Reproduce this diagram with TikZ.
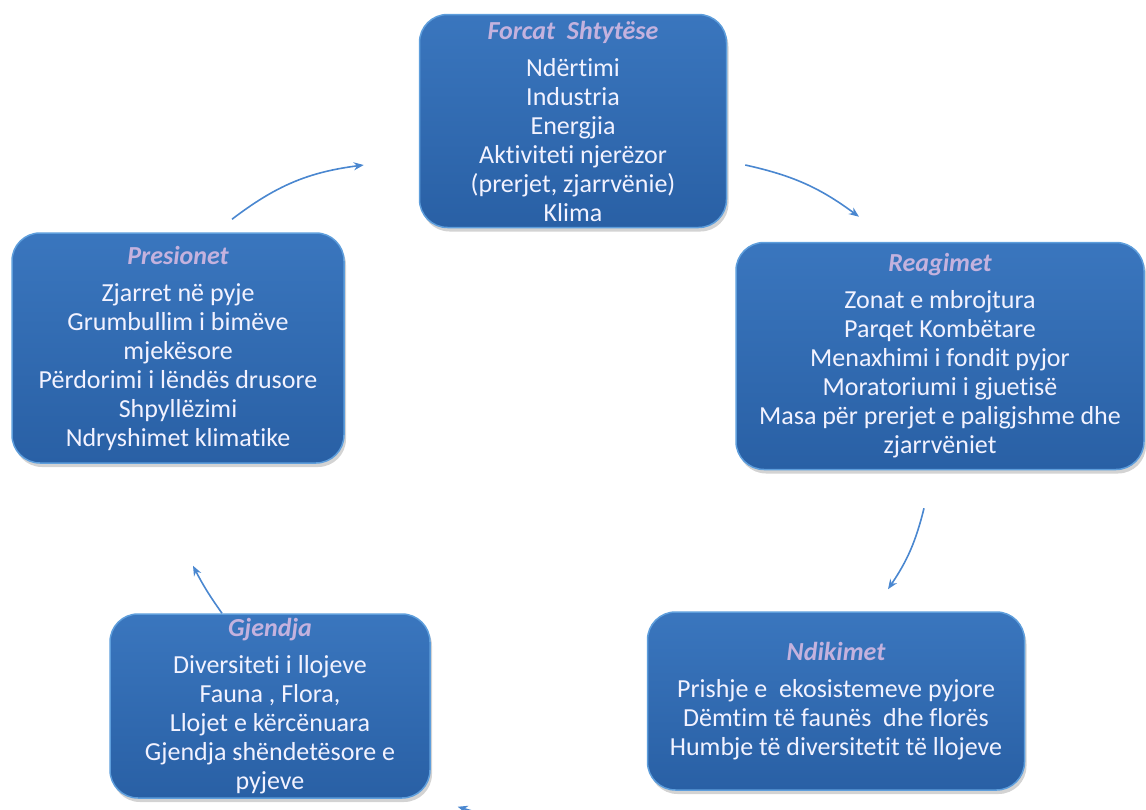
\documentclass[tikz,border=0pt]{standalone}
\usepackage{fontspec}
\setmainfont{Carlito}[Ligatures={NoCommon,NoContextual}]
\usepackage{xcolor}
\usepackage{tikz}
\usetikzlibrary{shadows, arrows.meta}
\definecolor{boxtop}{HTML}{3A76BE}
\definecolor{boxbot}{HTML}{2960A5}
\definecolor{boxedge}{HTML}{5E9EDC}
\definecolor{ttlcol}{HTML}{C4B2DE}
\definecolor{arrblue}{HTML}{4A87D0}
\newcommand{\boxttl}[1]{{\color{ttlcol}\bfseries\itshape #1}\\[8pt]}

\begin{document}
\begin{tikzpicture}[x=1pt, y=-1pt, >={Stealth[length=10pt, width=8pt]},
  every node/.style={font=\fontsize{26}{29}\selectfont, align=center, text=white!95!blue},
  dpsbox/.style={draw=boxedge, line width=1.5pt, rounded corners=28pt, top color=boxtop, bottom color=boxbot,
    drop shadow={opacity=0.35, shadow xshift=2pt, shadow yshift=-4pt}},
  arr/.style={->, draw=arrblue, line width=1.6pt}]
\useasboundingbox (0,0) rectangle (1146,809);
\node[dpsbox, minimum width=307pt, minimum height=213pt] (forc) at (573,121) {\boxttl{Forcat\ \ Shtytëse}Ndërtimi\\Industria\\Energjia\\Aktiviteti njerëzor\\(prerjet, zjarrvënie)\\Klima};
\node[dpsbox, minimum width=332pt, minimum height=230pt] (pres) at (178,348) {\boxttl{Presionet}Zjarret në pyje\\Grumbullim i bimëve\\mjekësore\\Përdorimi i lëndës drusore\\Shpyllëzimi\\Ndryshimet klimatike};
\node[dpsbox, minimum width=408pt, minimum height=227pt] (reag) at (940,356) {\boxttl{Reagimet}Zonat e mbrojtura\\Parqet Kombëtare\\Menaxhimi i fondit pyjor\\Moratoriumi i gjuetisë\\Masa për prerjet e paligjshme dhe\\zjarrvëniet};
\node[dpsbox, minimum width=377pt, minimum height=178pt] (ndik) at (836,701) {\boxttl{Ndikimet}Prishje e\ \ ekosistemeve pyjore\\Dëmtim të faunës\ \ dhe florës\\Humbje të diversitetit të llojeve};
\node[dpsbox, minimum width=320pt, minimum height=184pt, inner ysep=0pt] (gjen) at (270,706) {\boxttl{Gjendja}Diversiteti i llojeve\\Fauna , Flora,\\Llojet e kërcënuara\\Gjendja shëndetësore e\\pyjeve};
\draw[arr] ([xshift=54pt, yshift=13pt]pres.north) to[bend left=15] ([xshift=-55pt, yshift=-44pt]forc.west);
\draw[arr] ([xshift=18pt, yshift=-44pt]forc.east) to[bend left=12] ([xshift=-81pt, yshift=25pt]reag.north);
\draw[arr] ([xshift=-16pt, yshift=-38pt]reag.south) to[bend left=10] ([xshift=52pt, yshift=22pt]ndik.north);
\draw[arr] ([xshift=32pt, yshift=-50pt]ndik.south west) to[bend left=8] ([xshift=27pt, yshift=-8pt]gjen.south east);
\draw[arr] ([xshift=-48pt]gjen.north) to[bend left=4] ([xshift=15pt, yshift=-102pt]pres.south);
\end{tikzpicture}
\end{document}
